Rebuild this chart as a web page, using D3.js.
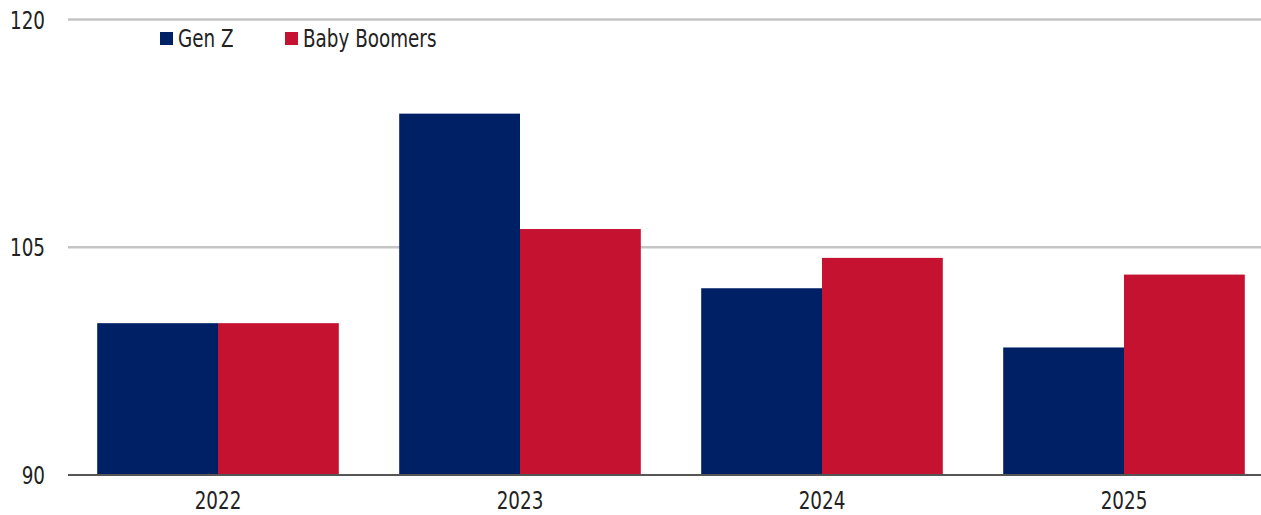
<!DOCTYPE html>
<html>
<head>
<meta charset="utf-8">
<script src="https://cdn.jsdelivr.net/npm/d3@7"></script>
<style>
  body { margin: 0; background: #fff; }
  text { font-family: "DejaVu Sans Condensed", "Liberation Sans Narrow", sans-serif; fill: #222; font-size: 24px; }
</style>
</head>
<body>
<svg id="chart"></svg>
<script>
var years = ["2022", "2023", "2024", "2025"]
var seriesNames = ["Gen Z", "Baby Boomers"]
var genZ = [100, 113.8, 102.3, 98.4]
var boomers = [100, 106.2, 104.3, 103.2]
var yTicks = [90, 105, 120]

var colors = ["#002066", "#c41230"]

var width = 1261, height = 515
var squeeze = 0.85   // the original font is narrower than what we have

var svg = d3.select("#chart")
    .attr("width", width)
    .attr("height", height)

var xScale = d3.scaleBand()
    .domain(years)
    .range([67, 1275])
    .paddingInner(0.2)
    .paddingOuter(0.1)

var xSub = d3.scaleBand()
    .domain(seriesNames)
    .range([0, xScale.bandwidth()])

var yScale = d3.scaleLinear()
    .domain([90, 120])
    .range([475, 19.5])

function place(x, y) {
    return "translate(" + x + "," + y + ") scale(" + squeeze + ",1)"
}

// gridlines
svg.append("g")
    .selectAll("line")
    .data(yTicks.filter(function(d) { return d > 90 }))
    .enter().append("line")
    .attr("x1", 68)
    .attr("x2", width)
    .attr("y1", function(d) { return yScale(d) })
    .attr("y2", function(d) { return yScale(d) })
    .attr("stroke", "#c4c4c4")
    .attr("stroke-width", 2.5)

// y labels
svg.append("g")
    .selectAll("text")
    .data(yTicks)
    .enter().append("text")
    .attr("transform", function(d) { return place(45, yScale(d) + 9) })
    .attr("text-anchor", "end")
    .text(function(d) { return d })

// bars
var rows = years.map(function(y, i) { return { year: y, vals: [genZ[i], boomers[i]] } })

var groups = svg.append("g")
    .selectAll("g")
    .data(rows)
    .enter().append("g")
    .attr("transform", function(d) { return "translate(" + xScale(d.year) + ",0)" })

groups.selectAll("rect")
    .data(function(d) { return d.vals.map(function(v, j) { return { name: seriesNames[j], value: v, j: j } }) })
    .enter().append("rect")
    .attr("x", function(d) { return xSub(d.name) })
    .attr("width", xSub.bandwidth())
    .attr("y", function(d) { return yScale(d.value) })
    .attr("height", function(d) { return yScale(90) - yScale(d.value) })
    .attr("fill", function(d) { return colors[d.j] })

// baseline
svg.append("line")
    .attr("x1", 68)
    .attr("x2", width)
    .attr("y1", yScale(90))
    .attr("y2", yScale(90))
    .attr("stroke", "#555")
    .attr("stroke-width", 2)

// x labels
svg.append("g")
    .selectAll("text")
    .data(years)
    .enter().append("text")
    .attr("transform", function(d) { return place(xScale(d) + xScale.bandwidth() / 2, 509) })
    .attr("text-anchor", "middle")
    .text(function(d) { return d })

// legend
var legendX = [160, 285]
var legend = svg.append("g")
    .selectAll("g")
    .data(seriesNames)
    .enter().append("g")
    .attr("transform", function(d, i) { return "translate(" + legendX[i] + ",32)" })

legend.append("rect")
    .attr("width", 13)
    .attr("height", 13)
    .attr("fill", function(d, i) { return colors[i] })

legend.append("text")
    .attr("transform", place(18, 14.5))
    .text(function(d) { return d })
</script>
</body>
</html>
